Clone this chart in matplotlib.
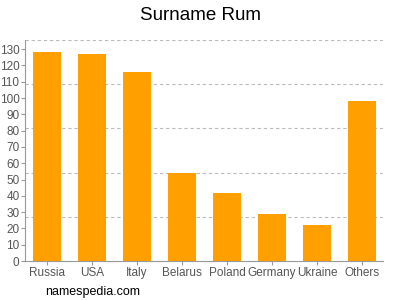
import matplotlib
matplotlib.use("Agg")
import matplotlib.pyplot as plt
import numpy as np

plt.rcParams["font.family"] = ["Liberation Sans", "DejaVu Sans"]

# 데이터
countries = ["Russia", "USA", "Italy", "Belarus", "Poland", "Germany", "Ukraine", "Others"]
counts = [128, 127, 116, 54, 42, 29, 22, 98]
yticks = list(range(0, 131, 10))
grid_levels = [27.1, 54.2, 81.3, 108.5, 135.6]

bar_color = "#FFA000"
text_gray = "#555555"

fig = plt.figure(figsize=(4, 3), dpi=100)
ax = fig.add_axes([0.0625, 0.13, 0.895, 0.7367])

x = np.arange(len(countries))
ax.bar(x, counts, width=0.62, color=bar_color, zorder=3)

# 점선 그리드
for g in grid_levels:
    ax.axhline(g, color="#bbbbbb", linestyle=(0, (3, 2.5)), linewidth=0.8, zorder=1)

ax.set_xlim(-0.49, 7.47)
ax.set_ylim(0, 135.6)
ax.set_xticks(x)
ax.set_xticklabels(countries)
ax.set_yticks(yticks)
ax.tick_params(axis="both", colors="#999999", labelcolor=text_gray, labelsize=8.5, length=3, width=0.8, pad=1)

for side in ["top", "right"]:
    ax.spines[side].set_visible(False)
for side in ["left", "bottom"]:
    ax.spines[side].set_color("#999999")
    ax.spines[side].set_linewidth(0.8)

fig.text(0.5, 0.95, "Surname Rum", ha="center", va="center", fontsize=13.5, color="#000000")
fig.text(0.113, 0.027, "namespedia.com", ha="left", va="center", fontsize=9, color="#000000")

fig.savefig("out.png", dpi=100)
